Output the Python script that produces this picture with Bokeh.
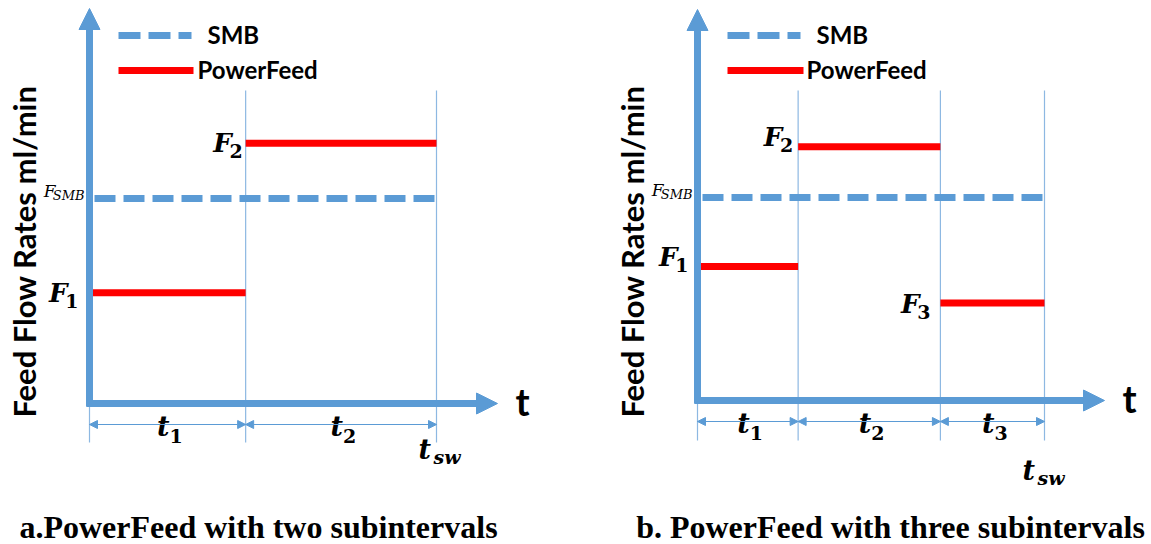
import math
from bokeh.plotting import figure
from bokeh.layouts import row
from bokeh.models import Range1d, Arrow, NormalHead
from bokeh.core.properties import value
from bokeh.embed import file_html
from bokeh.resources import INLINE

# ---------------- data (normalised: time / t_sw, flow / F_SMB) ----------------
t_bounds_a = [0.0, 0.45, 1.0]          # subinterval boundaries, panel a
flow_a = [0.54, 1.27]                  # F1, F2
t_bounds_b = [0.0, 0.29, 0.70, 1.0]    # subinterval boundaries, panel b
flow_b = [0.66, 1.25, 0.48]            # F1, F2, F3
f_smb = 1.0                            # constant SMB feed
sub_a = ["1", "2"]
sub_b = ["1", "2", "3"]
captions = ["a.PowerFeed with two subintervals", "b. PowerFeed with three subintervals"]
y_title = "Feed Flow Rates ml/min"
legend_labels = ["SMB", "PowerFeed"]
x_label = "t"

# ---------------- styling / layout ----------------
BLUE = "#5B9BD5"
THIN = "#8DB8E2"
RED = "#FF0000"
H = 544
SANS = "Lato"
MATH = "DejaVu Serif"
CAPF = "Liberation Serif"


def make_panel(W, ox, oy, sx, sy, t_bounds, flows, subs, lay, caption):
    p = figure(width=W, height=H, output_backend="svg", toolbar_location=None,
               x_axis_location=None, y_axis_location=None, title=None,
               x_range=Range1d(-ox / sx, (W - ox) / sx),
               y_range=Range1d(-(H - oy) / sy, oy / sy),
               min_border=0, outline_line_color=None,
               background_fill_color="white", border_fill_color="white")
    p.grid.visible = False

    def X(px):
        return (px - ox) / sx

    def Y(py):
        return (oy - py) / sy

    def dx(px):
        return px / sx

    def dy(px):
        return px / sy

    t0, t_sw = t_bounds[0], t_bounds[-1]

    def txt(x, y, s, font, style, size, align="left", angle=0.0):
        p.text(x=[x], y=[y], text=[s], angle=angle, text_font=value(font),
               text_font_style=style, text_font_size=size, text_align=align,
               text_baseline="middle", text_color="black")

    # thin vertical boundary lines
    n = len(t_bounds) - 1
    p.segment(x0=t_bounds[1:], x1=t_bounds[1:], y0=[Y(lay["vtop"])] * n,
              y1=[Y(lay["vbot"])] * n, line_color=THIN, line_width=1.2)
    p.segment(x0=[t0], x1=[t0], y0=[0], y1=[Y(lay["vbot"])], line_color=THIN, line_width=1.2)

    # dimension arrows
    for a, b in zip(t_bounds[:-1], t_bounds[1:]):
        p.add_layout(Arrow(x_start=a, y_start=Y(lay["dim_y"]), x_end=b, y_end=Y(lay["dim_y"]),
                           start=NormalHead(size=8, fill_color=BLUE, line_color=BLUE, line_width=1),
                           end=NormalHead(size=8, fill_color=BLUE, line_color=BLUE, line_width=1),
                           line_color=BLUE, line_width=1.2))

    # SMB constant feed
    p.segment(x0=[t0 + dx(5)], x1=[t_sw - dx(1)], y0=[f_smb], y1=[f_smb],
              line_color=BLUE, line_width=7, line_dash="21 8")

    # PowerFeed steps
    p.segment(x0=t_bounds[:-1], x1=t_bounds[1:], y0=flows, y1=flows,
              line_color=RED, line_width=7)

    # axes arrows
    p.add_layout(Arrow(x_start=t0, y_start=Y(oy + 3), x_end=t0, y_end=Y(lay["ytip"]), start=None,
                       end=NormalHead(size=21, fill_color=BLUE, line_color=BLUE, line_width=1),
                       line_color=BLUE, line_width=7))
    p.add_layout(Arrow(x_start=t0 - dx(3), y_start=0, x_end=X(lay["xtip"]), y_end=0, start=None,
                       end=NormalHead(size=21, fill_color=BLUE, line_color=BLUE, line_width=1),
                       line_color=BLUE, line_width=7))

    # legend
    p.segment(x0=[X(lay["lx0"])], x1=[X(lay["lx1"])], y0=[Y(35)], y1=[Y(35)],
              line_color=BLUE, line_width=7, line_dash="22 8")
    p.segment(x0=[X(lay["lx0"])], x1=[X(lay["lx2"])], y0=[Y(70)], y1=[Y(70)],
              line_color=RED, line_width=7)
    txt(X(lay["smb_x"]), Y(34), legend_labels[0], SANS, "bold", "24px")
    txt(X(lay["pf_x"]), Y(69), legend_labels[1], SANS, "bold", "24px")

    # y title
    txt(X(lay["title_x"]), Y(251), y_title, SANS, "bold", "31px", "center", math.pi / 2)

    # "t" axis label
    txt(X(lay["t_x"]), Y(lay["t_y"]), x_label, SANS, "bold", "38px", "center")

    # F labels
    for i, (a, f, s) in enumerate(zip(t_bounds[:-1], flows, subs)):
        gap = lay["fgap"][i]
        c = lay["fdy"][i]
        txt(a - dx(gap), f - dy(c + 8), s, MATH, "bold", "19px", "right")
        txt(a - dx(gap + 11), f - dy(c), "F", MATH, "bold italic", "26px", "right")

    # F_SMB label
    txt(t0 - dx(5), f_smb + dy(3), "SMB", MATH, "italic", "13px", "right")
    txt(t0 - dx(34), f_smb + dy(8), "F", MATH, "italic", "17px", "right")

    # t_i labels
    for i, (a, b) in enumerate(zip(t_bounds[:-1], t_bounds[1:])):
        mid = (a + b) / 2
        txt(mid + dx(2), Y(lay["dim_y"] + 1.5), "t", MATH, "bold italic", "27px", "right")
        txt(mid + dx(2), Y(lay["dim_y"] + 11), str(i + 1), MATH, "bold", "19px", "left")

    # t_sw label
    txt(t_sw - dx(lay["tsw_dx"]), Y(lay["tsw_c"]), "t", MATH, "bold italic", "27px", "left")
    txt(t_sw - dx(lay["tsw_dx"] - 15), Y(lay["tsw_c"] + 7), "sw", MATH, "bold italic", "19px", "left")

    # caption
    txt(X(lay["cap_x"]), Y(526), caption, CAPF, "bold", "32px", "center")
    return p


lay_a = dict(vtop=90, vbot=442, dim_y=424, ytip=8, xtip=497, lx0=118, lx1=191, lx2=193,
             smb_x=207, pf_x=197, title_x=23, t_x=522, t_y=400,
             fgap=[11, 3], fdy=[0, 0], tsw_dx=18, tsw_c=449, cap_x=258)
lay_b = dict(vtop=90, vbot=440, dim_y=421, ytip=9, xtip=528, lx0=151, lx1=224, lx2=227,
             smb_x=240, pf_x=230, title_x=55, t_x=553, t_y=397,
             fgap=[9, 5, 10], fdy=[-10, -10, 1], tsw_dx=22, tsw_c=470, cap_x=314)

pa = make_panel(576, 89, 403, 347, 205, t_bounds_a, flow_a, sub_a, lay_a, captions[0])
pb = make_panel(575, 121, 400, 347, 203, t_bounds_b, flow_b, sub_b, lay_b, captions[1])

layout = row(pa, pb)
open("out.html", "w").write(file_html(layout, INLINE))
